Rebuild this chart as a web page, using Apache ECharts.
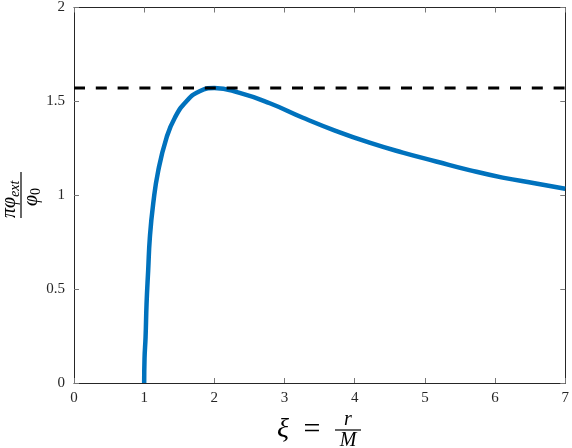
<!DOCTYPE html>
<html>
<head>
<meta charset="utf-8">
<script src="https://cdn.jsdelivr.net/npm/echarts@6/dist/echarts.min.js"></script>
<style>
    html, body { margin: 0; padding: 0; background: #fff; }
    #chart { width: 572px; height: 448px; }
</style>
</head>
<body>
<div id="chart"></div>
<script>
    // values
    const xiValues  = [1.0, 1.005, 1.02, 1.034, 1.057, 1.081, 1.128, 1.2, 1.319, 1.437, 1.603, 1.79, 2.0, 2.36, 2.79, 3.262, 3.737, 4.211, 4.685, 5.16, 5.634, 6.108, 6.583, 7.0];
    const phiValues = [0, 0.13, 0.246, 0.423, 0.6, 0.776, 0.953, 1.13, 1.307, 1.413, 1.501, 1.554, 1.571, 1.545, 1.49, 1.413, 1.342, 1.28, 1.227, 1.18, 1.134, 1.094, 1.063, 1.035];
    const xTicks = [0, 1, 2, 3, 4, 5, 6, 7];
    const yTicks = [0, 0.5, 1, 1.5, 2];
    const asymptote = Math.PI / 2;

    const font = 'Liberation Serif';
    const axisColor = '#262626';

    const chart = echarts.init(document.getElementById('chart'), null, { renderer: 'canvas' });

    const axisCommon = {
        axisLine: { show: true, onZero: false, lineStyle: { color: axisColor, width: 1 } },
        axisTick: { show: true, inside: true, length: 5, lineStyle: { color: '#777', width: 1 } },
        splitLine: { show: false }
    };

    const option = {
        animation: false,
        backgroundColor: '#fff',
        grid: { left: 74, right: 6, top: 6, bottom: 65 },
        xAxis: [
            Object.assign({
                type: 'value', min: 0, max: 7, interval: 1, position: 'bottom',
                axisLabel: { color: axisColor, fontFamily: font, fontSize: 15, margin: 8,
                    formatter: v => xTicks.indexOf(v) >= 0 ? String(v) : '' }
            }, axisCommon),
            Object.assign({
                type: 'value', min: 0, max: 7, interval: 1, position: 'top',
                axisLabel: { show: false }
            }, axisCommon)
        ],
        yAxis: [
            Object.assign({
                type: 'value', min: 0, max: 2, interval: 0.5, position: 'left',
                axisLabel: { color: axisColor, fontFamily: font, fontSize: 15, margin: 9,
                    formatter: v => yTicks.indexOf(v) >= 0 ? String(v) : '' }
            }, axisCommon),
            Object.assign({
                type: 'value', min: 0, max: 2, interval: 0.5, position: 'right',
                axisLabel: { show: false }
            }, axisCommon)
        ],
        series: [
            {
                type: 'line',
                data: xiValues.map((x, i) => [x, phiValues[i]]),
                showSymbol: false,
                smooth: 0.5,
                clip: true,
                lineStyle: { color: '#0072BD', width: 4.5 },
                z: 2
            },
            {
                type: 'line',
                data: [[0, asymptote], [7, asymptote]],
                showSymbol: false,
                lineStyle: { color: '#000', width: 3, type: [11, 10.8], cap: 'butt' },
                z: 3
            }
        ],
        graphic: [
            // x axis label: xi = r / M
            {
                type: 'group', x: 318, y: 430,
                children: [
                    { type: 'text', x: -35, y: 0, style: { text: 'ξ', font: 'italic 28px ' + font, fill: '#000', textAlign: 'center', textVerticalAlign: 'middle', align: 'center', verticalAlign: 'middle' } },
                    { type: 'text', x: -6, y: 0, style: { text: '=', font: '30px ' + font, fill: '#000', textAlign: 'center', textVerticalAlign: 'middle', align: 'center', verticalAlign: 'middle' } },
                    { type: 'text', x: 30, y: -10, style: { text: 'r', font: 'italic 20px ' + font, fill: '#000', textAlign: 'center', textVerticalAlign: 'middle', align: 'center', verticalAlign: 'middle' } },
                    { type: 'rect', shape: { x: 17, y: -0.6, width: 26, height: 1.2 }, style: { fill: '#000' } },
                    { type: 'text', x: 30, y: 11, style: { text: 'M', font: 'italic 20px ' + font, fill: '#000', textAlign: 'center', textVerticalAlign: 'middle', align: 'center', verticalAlign: 'middle' } }
                ]
            },
            // y axis label: pi phi_ext / phi_0
            {
                type: 'group', x: 21, y: 195, rotation: Math.PI / 2,
                children: [
                    { type: 'text', x: -23, y: -11, style: { text: 'πφ', font: 'italic 20px ' + font, fill: '#000', textAlign: 'left', textVerticalAlign: 'middle', align: 'left', verticalAlign: 'middle' } },
                    { type: 'text', x: -2, y: -6, style: { text: 'ext', font: 'italic 14px ' + font, fill: '#000', textAlign: 'left', textVerticalAlign: 'middle', align: 'left', verticalAlign: 'middle' } },
                    { type: 'rect', shape: { x: -23, y: -0.6, width: 46, height: 1.2 }, style: { fill: '#000' } },
                    { type: 'text', x: -11, y: 11, style: { text: 'φ', font: 'italic 20px ' + font, fill: '#000', textAlign: 'left', textVerticalAlign: 'middle', align: 'left', verticalAlign: 'middle' } },
                    { type: 'text', x: 0, y: 15, style: { text: '0', font: '14px ' + font, fill: '#000', textAlign: 'left', textVerticalAlign: 'middle', align: 'left', verticalAlign: 'middle' } }
                ]
            }
        ]
    };

    chart.setOption(option);
    window.addEventListener('resize', chart.resize);
</script>
</body>
</html>
